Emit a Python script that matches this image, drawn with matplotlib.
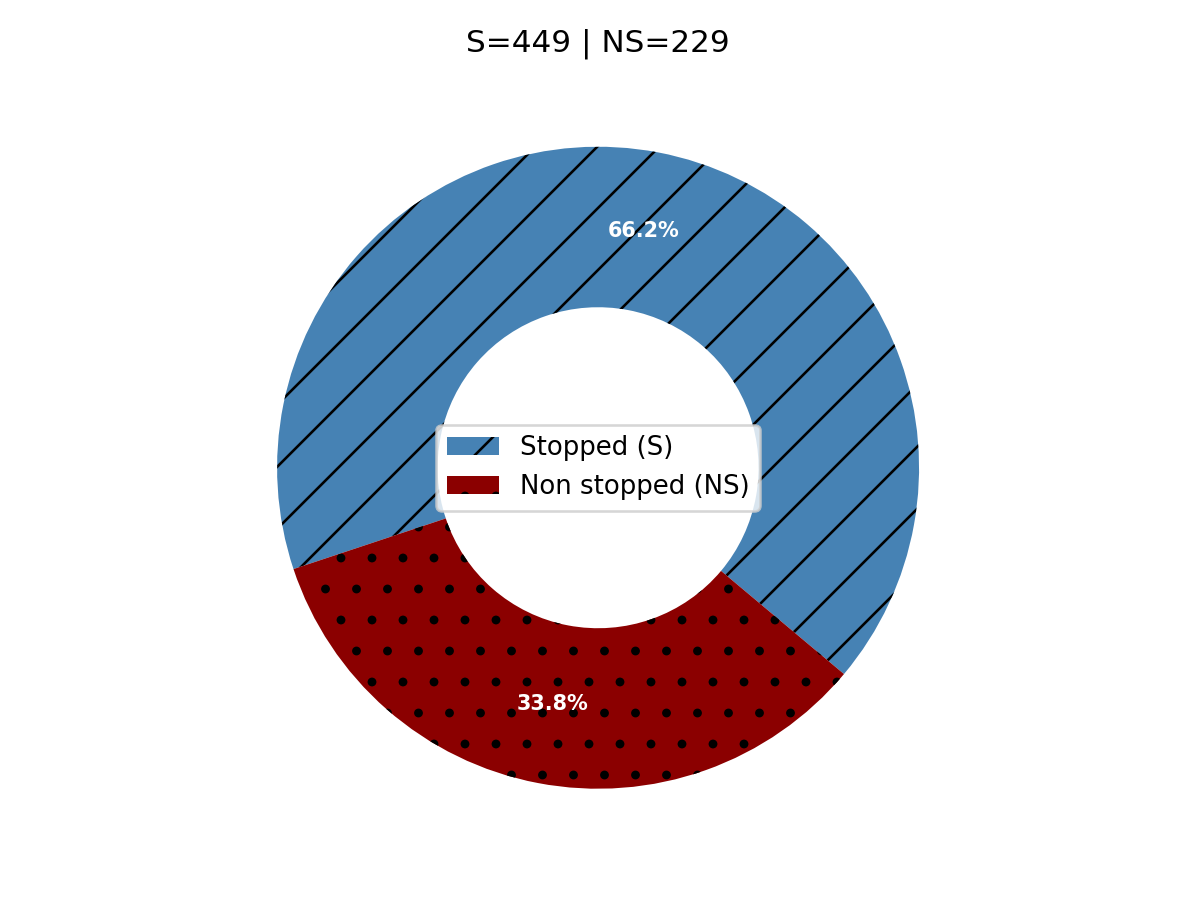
import matplotlib.pyplot as plt

# counts
labels = ['Stopped (S)', 'Non stopped (NS)']
counts = [449, 229]
colors = ['steelblue', 'darkred']
hatches = ['/', '.']

fig, ax = plt.subplots(figsize=(6.4, 4.8), dpi=186.9)

wedges, texts, autotexts = ax.pie(counts, colors=colors, startangle=-40,
                                  autopct='%1.1f%%', pctdistance=0.75,
                                  wedgeprops=dict(width=0.5),
                                  textprops=dict(color='white', weight='bold',
                                                 fontsize=8))
for w, h in zip(wedges, hatches):
    w.set_hatch(h)

ax.legend(wedges, labels, loc='center')
ax.set_title('S=%d | NS=%d' % (counts[0], counts[1]), fontsize=12)

plt.tight_layout()
plt.savefig('out.png')
